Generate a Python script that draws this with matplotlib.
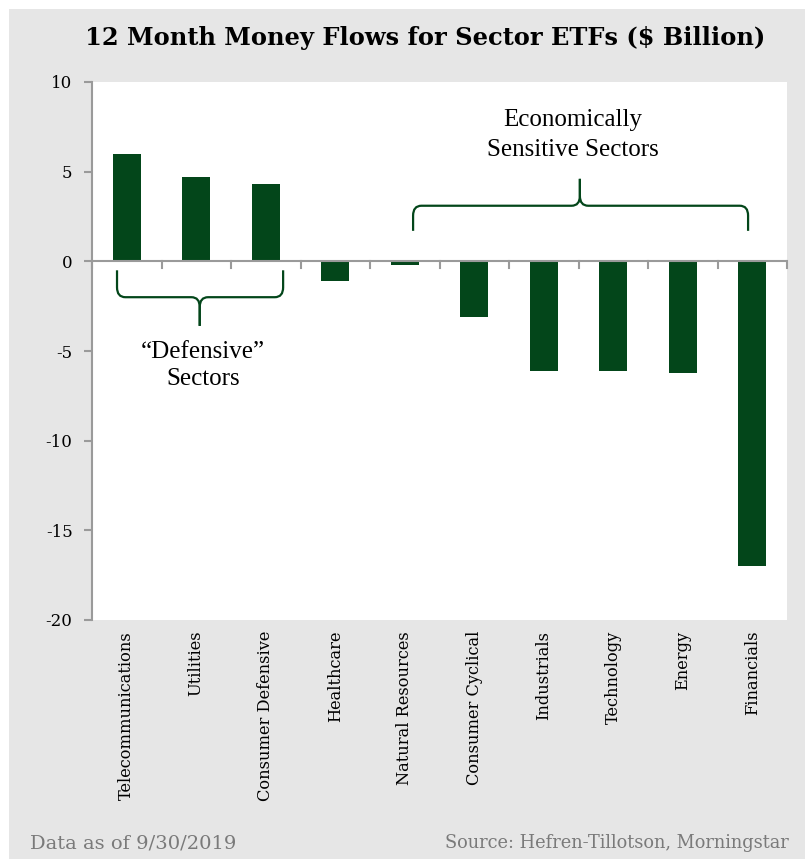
import matplotlib.pyplot as plt
from matplotlib.patches import Rectangle, PathPatch
from matplotlib.path import Path
import numpy as np

sectors = ['Telecommunications', 'Utilities', 'Consumer Defensive', 'Healthcare',
           'Natural Resources', 'Consumer Cyclical', 'Industrials', 'Technology',
           'Energy', 'Financials']
flows = [6.0, 4.7, 4.3, -1.1, -0.2, -3.1, -6.1, -6.1, -6.2, -17.0]
y_ticks = [10, 5, 0, -5, -10, -15, -20]

green = '#03461a'
grey_bg = '#e6e6e6'
axis_col = '#9a9a9a'

fig = plt.figure(figsize=(8.05, 8.59), dpi=100, facecolor='white')
# grey panel behind everything (thin white margin top/left)
fig.patches.append(Rectangle((9 / 805, 0), 1, (859 - 9) / 859, transform=fig.transFigure,
                             facecolor=grey_bg, edgecolor='none', zorder=-10))

ax = fig.add_axes([92 / 805, 1 - 620 / 859, (787 - 92) / 805, (620 - 82) / 859])
ax.set_facecolor('white')

x = np.arange(len(sectors))
ax.bar(x, flows, width=0.4, color=green, zorder=3)

ax.set_xlim(-0.5, len(sectors) - 0.5)
ax.set_ylim(-20, 10)

for s in ['top', 'right', 'bottom']:
    ax.spines[s].set_visible(False)
ax.spines['left'].set_color(axis_col)
ax.spines['left'].set_linewidth(1.5)

# zero line acting as category axis, ticks at category boundaries
ax.axhline(0, color=axis_col, lw=1.5, zorder=4)
for b in np.arange(-0.5, len(sectors), 1.0):
    ax.plot([b, b], [0, -0.35], color=axis_col, lw=1.5, zorder=4, clip_on=False)

ax.set_yticks(y_ticks)
ax.set_yticklabels([str(v) for v in y_ticks], fontsize=12, family='DejaVu Serif')
ax.tick_params(axis='y', length=6, width=1.5, color=axis_col, pad=8)

ax.set_xticks(x)
ax.set_xticklabels([])
ax.tick_params(axis='x', length=0)
for xi, name in zip(x, sectors):
    ax.text(xi, -20.6, name, rotation=90, ha='center', va='top', fontsize=11.7,
            family='DejaVu Serif')


def brace(ax, x0, x1, xm, y_end, y_mid, y_tip, rx=0.12, ry=0.55):
    # curly brace made of two halves with rounded corners
    s = np.sign(y_mid - y_end)
    for xa, d in ((x0, 1), (x1, -1)):
        verts = [(xa, y_end), (xa, y_mid - s * ry),
                 (xa, y_mid), (xa + d * rx, y_mid),
                 (xm - d * rx, y_mid),
                 (xm, y_mid), (xm, y_mid + s * ry),
                 (xm, y_tip)]
        codes = [Path.MOVETO, Path.LINETO, Path.CURVE3, Path.CURVE3, Path.LINETO,
                 Path.CURVE3, Path.CURVE3, Path.LINETO]
        ax.add_patch(PathPatch(Path(verts, codes), facecolor='none', edgecolor=green,
                               lw=1.6, zorder=5, clip_on=False))


brace(ax, -0.14, 2.25, 1.05, -0.5, -2.0, -3.6)
brace(ax, 4.12, 8.94, 6.52, 1.7, 3.1, 4.6)

ax.text(1.1, -5.8, '\u201cDefensive\u201d\nSectors', ha='center', va='center',
        fontsize=18, family='Liberation Serif', linespacing=1.3)
ax.text(6.42, 7.05, 'Economically\nSensitive Sectors', ha='center', va='center',
        fontsize=18, family='Liberation Serif', linespacing=1.5)

fig.text(425 / 805, 1 - 38 / 859, '12 Month Money Flows for Sector ETFs ($ Billion)',
         ha='center', va='center', fontsize=17.4, fontweight='bold', family='DejaVu Serif')

fig.text(30 / 805, 1 - 843 / 859, 'Data as of 9/30/2019', ha='left', va='center',
         fontsize=14, color='#7a7a7a', family='DejaVu Serif')
fig.text(445 / 805, 1 - 843 / 859, 'Source: Hefren-Tillotson, Morningstar', ha='left',
         va='center', fontsize=12.8, color='#7a7a7a', family='DejaVu Serif')

fig.savefig('out.png', dpi=100, facecolor='white')
